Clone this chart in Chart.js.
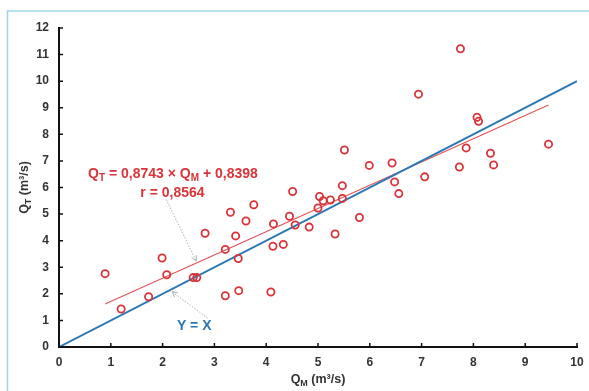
<!DOCTYPE html>
<html>
<head>
<meta charset="utf-8">
<script src="https://cdn.jsdelivr.net/npm/chart.js@4"></script>
<style>
  html, body { margin: 0; padding: 0; background: #ffffff; }
  #wrap { width: 589px; height: 391px; position: relative; }
</style>
</head>
<body>
<div id="wrap"><canvas id="c" width="589" height="391"></canvas></div>
<script>
// Measured discharge Q_M and computed discharge Q_T (m³/s)
const qM = [0.89, 1.20, 1.73, 1.99, 2.08, 2.59, 2.66, 2.82, 3.21, 3.21,
            3.47, 3.31, 3.41, 3.46, 3.61, 3.76, 4.09, 4.13, 4.14, 4.33,
            4.45, 4.51, 4.56, 4.83, 5.00, 5.03, 5.10, 5.24, 5.47, 5.47,
            5.33, 5.51, 5.80, 5.99, 6.43, 6.48, 6.56, 6.94, 7.06, 7.73,
            7.75, 7.86, 8.07, 8.10, 8.33, 8.39, 9.45];
const qT = [2.76, 1.43, 1.89, 3.35, 2.72, 2.61, 2.61, 4.28, 3.67, 1.93,
            2.12, 5.07, 4.18, 3.33, 4.74, 5.35, 2.07, 3.79, 4.63, 3.86,
            4.92, 5.85, 4.59, 4.51, 5.23, 5.66, 5.50, 5.53, 5.59, 6.07,
            4.25, 7.41, 4.87, 6.83, 6.92, 6.21, 5.77, 9.51, 6.40, 6.77,
            11.22, 7.49, 8.64, 8.49, 7.29, 6.85, 7.63];

// Linear fit Q_T = a·Q_M + b and correlation coefficient
const fitSlope = 0.8743;
const fitIntercept = 0.8398;
const fitR = 0.8564;

// Axis ticks
const xTicks = [0, 1, 2, 3, 4, 5, 6, 7, 8, 9, 10];
const yTicks = [0, 1, 2, 3, 4, 5, 6, 7, 8, 9, 10, 11, 12];

// Annotation anchors in data units
const eqLabelAt = [2.2, 6.5];
const rLabelAt = [2.19, 5.79];
const idLabelAt = [2.61, 0.79];
const fitArrow = [[2.07, 5.55], [2.65, 3.23]];
const idArrow = [[2.87, 1.09], [2.18, 2.08]];

const RED = '#d9343a';
const FIT_RED = '#e0545a';
const BLUE = '#2b78b4';
const FONT = '"Liberation Sans", Arial, sans-serif';

const comma = v => v.toFixed(4).replace('.', ',');

const points = qM.map((x, i) => ({ x: x, y: qT[i] }));
const xMin = Math.min(...qM), xMax = Math.max(...qM);
const fitLine = [xMin, xMax].map(x => ({ x: x, y: fitSlope * x + fitIntercept }));
const identity = [{ x: 0, y: 0 }, { x: 10, y: 10 }];

// Draw text made of normal and subscript segments, centred on (cx, cy)
function drawRich(ctx, segs, cx, cy, size, color, bold, rotate) {
  ctx.save();
  ctx.translate(cx, cy);
  if (rotate) ctx.rotate(rotate);
  ctx.fillStyle = color;
  ctx.textBaseline = 'middle';
  ctx.textAlign = 'left';
  const w = (bold ? 'bold ' : '');
  let total = 0;
  const widths = segs.map(s => {
    ctx.font = w + (s.sub ? Math.round(size * 0.68) : size) + 'px ' + FONT;
    const m = ctx.measureText(s.t).width;
    total += m;
    return m;
  });
  let x = -total / 2;
  segs.forEach((s, i) => {
    ctx.font = w + (s.sub ? Math.round(size * 0.68) : size) + 'px ' + FONT;
    ctx.fillText(s.t, x, s.sub ? size * 0.32 : 0);
    x += widths[i];
  });
  ctx.restore();
}

function drawArrow(ctx, x0, y0, x1, y1) {
  ctx.save();
  ctx.strokeStyle = '#b0b0b0';
  ctx.lineWidth = 1;
  ctx.setLineDash([1.5, 1.5]);
  ctx.beginPath();
  ctx.moveTo(x0, y0);
  ctx.lineTo(x1, y1);
  ctx.stroke();
  ctx.setLineDash([]);
  const a = Math.atan2(y1 - y0, x1 - x0);
  const L = 6, spread = 0.45;
  ctx.beginPath();
  ctx.moveTo(x1 - L * Math.cos(a - spread), y1 - L * Math.sin(a - spread));
  ctx.lineTo(x1, y1);
  ctx.lineTo(x1 - L * Math.cos(a + spread), y1 - L * Math.sin(a + spread));
  ctx.stroke();
  ctx.restore();
}

const decor = {
  id: 'decor',
  beforeDraw(chart) {
    const ctx = chart.ctx;
    ctx.save();
    ctx.strokeStyle = '#9fd6e3';
    ctx.lineWidth = 1.5;
    ctx.beginPath();
    ctx.moveTo(7.5, chart.height);
    ctx.lineTo(7.5, 11);
    ctx.lineTo(chart.width, 11);
    ctx.stroke();
    ctx.restore();
  },
  afterDraw(chart) {
    const ctx = chart.ctx;
    const xs = chart.scales.x, ys = chart.scales.y;
    const area = chart.chartArea;
    // inner tick marks
    ctx.save();
    ctx.strokeStyle = '#111';
    ctx.lineWidth = 1.5;
    ctx.beginPath();
    xTicks.forEach(v => {
      const px = xs.getPixelForValue(v);
      ctx.moveTo(px, area.bottom);
      ctx.lineTo(px, area.bottom - 4);
    });
    yTicks.forEach(v => {
      const py = ys.getPixelForValue(v);
      ctx.moveTo(area.left, py);
      ctx.lineTo(area.left + 4, py);
    });
    ctx.stroke();
    ctx.restore();

    // axis titles
    drawRich(ctx, [{ t: 'Q' }, { t: 'M', sub: true }, { t: ' (m³/s)' }],
      (area.left + area.right) / 2, 380, 12.5, '#333', true, 0);
    drawRich(ctx, [{ t: 'Q' }, { t: 'T', sub: true }, { t: ' (m³/s)' }],
      25, (area.top + area.bottom) / 2, 12.5, '#333', true, -Math.PI / 2);

    // regression annotation
    const P = (d) => [xs.getPixelForValue(d[0]), ys.getPixelForValue(d[1])];
    let p = P(eqLabelAt);
    drawRich(ctx, [{ t: 'Q' }, { t: 'T', sub: true },
      { t: ' = ' + comma(fitSlope) + ' × Q' }, { t: 'M', sub: true },
      { t: ' + ' + comma(fitIntercept) }], p[0], p[1], 14, RED, true, 0);
    p = P(rLabelAt);
    drawRich(ctx, [{ t: 'r = ' + comma(fitR) }], p[0], p[1], 14, RED, true, 0);
    p = P(idLabelAt);
    drawRich(ctx, [{ t: 'Y = X' }], p[0], p[1], 14, BLUE, true, 0);

    let a = P(fitArrow[0]), b = P(fitArrow[1]);
    drawArrow(ctx, a[0], a[1], b[0], b[1]);
    a = P(idArrow[0]); b = P(idArrow[1]);
    drawArrow(ctx, a[0], a[1], b[0], b[1]);
  }
};

new Chart(document.getElementById('c'), {
  type: 'scatter',
  data: {
    datasets: [
      {
        label: 'Q_T vs Q_M',
        data: points,
        pointStyle: 'circle',
        pointRadius: 3.6,
        pointBorderWidth: 1.8,
        pointBorderColor: RED,
        pointBackgroundColor: 'rgba(255,255,255,0)',
        showLine: false,
        order: 0
      },
      {
        label: 'Y = X',
        data: identity,
        showLine: true,
        borderColor: BLUE,
        borderWidth: 2,
        pointRadius: 0,
        order: 1
      },
      {
        label: 'fit',
        data: fitLine,
        showLine: true,
        borderColor: FIT_RED,
        borderWidth: 1.2,
        pointRadius: 0,
        order: 2
      }
    ]
  },
  options: {
    responsive: false,
    animation: false,
    devicePixelRatio: 1,
    layout: { padding: { top: 28, right: 12, left: 0, bottom: 0 } },
    plugins: { legend: { display: false }, tooltip: { enabled: false } },
    scales: {
      x: {
        type: 'linear',
        min: 0, max: 10,
        afterBuildTicks: s => { s.ticks = xTicks.map(v => ({ value: v })); },
        afterFit: s => { s.height = 44; s.paddingRight = 0; s.paddingLeft = 0; },
        grid: { display: false, drawTicks: false },
        border: { display: true, color: '#111', width: 2 },
        ticks: { padding: 8, color: '#333', font: { family: FONT, size: 12, weight: 'bold' } }
      },
      y: {
        type: 'linear',
        min: 0, max: 12,
        afterBuildTicks: s => { s.ticks = yTicks.map(v => ({ value: v })); },
        afterFit: s => { s.width = 59; s.paddingTop = 0; s.paddingBottom = 0; },
        grid: { display: false, drawTicks: false },
        border: { display: true, color: '#111', width: 2 },
        ticks: { padding: 10, color: '#333', font: { family: FONT, size: 12, weight: 'bold' } }
      }
    }
  },
  plugins: [decor]
});
</script>
</body>
</html>
